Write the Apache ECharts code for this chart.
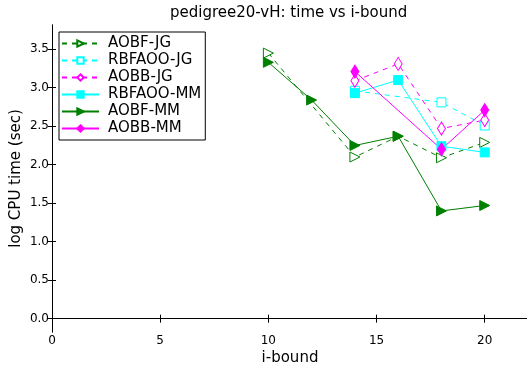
<!DOCTYPE html>
<html><head><meta charset="utf-8">
<script src="https://cdn.jsdelivr.net/npm/echarts@6/dist/echarts.min.js"></script>
<style>html,body{margin:0;padding:0;background:#fff}#c{width:527px;height:369px}</style>
</head><body><div id="c"></div>
<script>
const title = 'pedigree20-vH: time vs i-bound';
const xTicks = [0, 5, 10, 15, 20];
const yTicks = [0.0, 0.5, 1.0, 1.5, 2.0, 2.5, 3.0, 3.5];

const aobfJG_x = [10, 14, 16, 18, 20];
const aobfJG_y = [3.45, 2.10, 2.37, 2.09, 2.29];
const rbfaooJG_x = [14, 18, 20];
const rbfaooJG_y = [2.96, 2.81, 2.51];
const aobbJG_x = [14, 16, 18, 20];
const aobbJG_y = [3.09, 3.31, 2.47, 2.58];
const rbfaooMM_x = [14, 16, 18, 20];
const rbfaooMM_y = [2.93, 3.10, 2.24, 2.16];
const aobfMM_x = [10, 12, 14, 16, 18, 20];
const aobfMM_y = [3.33, 2.84, 2.25, 2.37, 1.40, 1.47];
const aobbMM_x = [14, 18, 20];
const aobbMM_y = [3.21, 2.20, 2.71];

const GREEN = '#008000', CYAN = '#00ffff', MAG = '#ff00ff';
const diamond = 'path://M0,-10L6,0L0,10L-6,0Z';
const pairs = (xs, ys) => xs.map((x, i) => [x, ys[i]]);

function mk(name, xs, ys, color, dashed, symbol, filled, size, rot) {
  return {
    name, type: 'line', data: pairs(xs, ys),
    symbol, symbolSize: size, symbolRotate: rot || 0,
    showAllSymbol: true,
    lineStyle: { color, width: 1, type: dashed ? [5, 5] : 'solid' },
    itemStyle: { color: filled ? color : '#ffffff', borderColor: color, borderWidth: 1 },
    emphasis: { disabled: true },
    z: filled ? 3 : 2
  };
}

const series = [
  mk('AOBF-JG', aobfJG_x, aobfJG_y, GREEN, true, 'triangle', false, 10, -90),
  mk('RBFAOO-JG', rbfaooJG_x, rbfaooJG_y, CYAN, true, 'rect', false, 9),
  mk('AOBB-JG', aobbJG_x, aobbJG_y, MAG, true, diamond, false, [8, 13]),
  mk('RBFAOO-MM', rbfaooMM_x, rbfaooMM_y, CYAN, false, 'rect', true, 9),
  mk('AOBF-MM', aobfMM_x, aobfMM_y, GREEN, false, 'triangle', true, 10, -90),
  mk('AOBB-MM', aobbMM_x, aobbMM_y, MAG, false, diamond, true, [8, 13])
];

const font = 'DejaVu Sans';
const tickStyle = { show: true, inside: true, length: 4, lineStyle: { color: '#000' } };
const chart = echarts.init(document.getElementById('c'), null, { renderer: 'canvas' });
chart.setOption({
  animation: false,
  backgroundColor: '#fff',
  title: { text: title, left: 170, top: 6, padding: 0, textStyle: { fontFamily: font, fontSize: 15, fontWeight: 'normal', color: '#000' } },
  grid: { left: 52, right: -1, top: 25, bottom: 37, outerBoundsMode: 'none', containLabel: false },
  legend: {
    orient: 'vertical', left: 59, top: 32,
    data: series.map(s => s.name),
    borderColor: '#000', borderWidth: 1, borderRadius: 0,
    padding: [3, 4, 3, 2], itemGap: 0, itemWidth: 37, itemHeight: 8,
    textStyle: { fontFamily: font, fontSize: 15, lineHeight: 17, color: '#000', padding: [0, 0, 0, 4] }
  },
  xAxis: [
    { type: 'value', min: 0, max: 22, interval: 5, position: 'bottom',
      name: 'i-bound', nameLocation: 'middle', nameGap: 19, nameMoveOverlap: false,
      nameTextStyle: { fontFamily: font, fontSize: 15, color: '#000' },
      axisLine: { show: true, lineStyle: { color: '#000' } },
      axisTick: tickStyle, splitLine: { show: false },
      axisLabel: { fontFamily: font, fontSize: 12, color: '#000', margin: 3,
        formatter: v => xTicks.includes(v) ? String(v) : '' } },
    { type: 'value', min: 0, max: 22, interval: 5, position: 'top',
      axisLine: { show: true, lineStyle: { color: '#000' } },
      axisTick: tickStyle, axisLabel: { show: false }, splitLine: { show: false } }
  ],
  yAxis: [
    { type: 'value', min: -0.173, max: 3.815, position: 'left',
      name: 'log CPU time (sec)', nameLocation: 'middle', nameGap: 28, nameMoveOverlap: false,
      nameTextStyle: { fontFamily: font, fontSize: 15, color: '#000' },
      axisLine: { show: true, lineStyle: { color: '#000' } },
      axisTick: { ...tickStyle, customValues: yTicks },
      splitLine: { show: false },
      axisLabel: { fontFamily: font, fontSize: 12, color: '#000', margin: 3,
        customValues: yTicks, formatter: v => v.toFixed(1) } },
    { type: 'value', min: -0.173, max: 3.815, position: 'right',
      axisLine: { show: true, lineStyle: { color: '#000' } },
      axisTick: { ...tickStyle, customValues: yTicks },
      axisLabel: { show: false, customValues: yTicks }, splitLine: { show: false } }
  ],
  series
});
</script></body></html>
